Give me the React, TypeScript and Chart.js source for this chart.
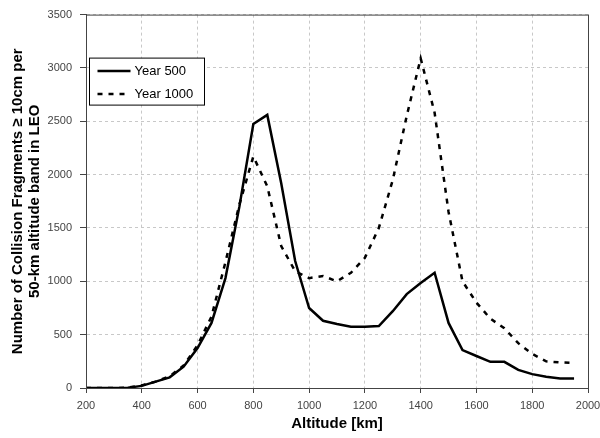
import React, { useEffect, useRef } from "react";
import { Chart, registerables } from "chart.js";

Chart.register(...registerables);

const altitudes = [200, 250, 300, 350, 400, 450, 500, 550, 600, 650, 700, 750, 800, 850, 900, 950, 1000, 1050, 1100, 1150, 1200, 1250, 1300, 1350, 1400, 1450, 1500, 1550, 1600, 1650, 1700, 1750, 1800, 1850, 1900, 1950];
const year500 = [0, 0, 0, 3, 20, 60, 100, 200, 375, 610, 1030, 1700, 2475, 2560, 1920, 1190, 750, 630, 600, 575, 575, 580, 720, 880, 985, 1080, 610, 355, 300, 245, 245, 170, 130, 105, 90, 90];
const year1000 = [0, 0, 0, 3, 25, 60, 110, 210, 400, 670, 1180, 1720, 2170, 1890, 1330, 1095, 1030, 1050, 1000, 1080, 1220, 1500, 1950, 2550, 3090, 2580, 1650, 1000, 800, 650, 560, 420, 320, 250, 240, 235];
const seriesNames = ["Year 500", "Year 1000"];
const yTitle = ["Number of Collision Fragments \u2265 10cm per", "50-km altitude band in LEO"];
const xTitle = "Altitude [km]";

const FONT = "'Liberation Sans', Arial, sans-serif";

const framePlugin = {
  id: "frameLegend",
  afterDraw(chart: any) {
    const { ctx, chartArea } = chart;
    ctx.save();
    ctx.strokeStyle = "#444";
    ctx.lineWidth = 1;
    ctx.setLineDash([]);
    ctx.strokeRect(chartArea.left + 0.5, chartArea.top + 0.5, chartArea.right - chartArea.left, chartArea.bottom - chartArea.top);
    // legend box
    const bx = chartArea.left + 3.5;
    const by = chartArea.top + 43.5;
    const bw = 115;
    const bh = 47;
    ctx.fillStyle = "#fff";
    ctx.fillRect(bx, by, bw, bh);
    ctx.strokeStyle = "#000";
    ctx.strokeRect(bx, by, bw, bh);
    ctx.font = "13px " + FONT;
    ctx.textBaseline = "middle";
    chart.data.datasets.forEach((ds: any, i: number) => {
      const y = by + 13 + i * 23;
      ctx.beginPath();
      ctx.strokeStyle = ds.borderColor;
      ctx.lineWidth = ds.borderWidth;
      ctx.setLineDash(ds.borderDash || []);
      ctx.moveTo(bx + 8, y);
      ctx.lineTo(bx + 41, y);
      ctx.stroke();
      ctx.setLineDash([]);
      ctx.fillStyle = "#000";
      ctx.fillText(ds.label, bx + 45, y);
    });
    ctx.restore();
  },
};

export default function App() {
  const ref = useRef<HTMLCanvasElement | null>(null);
  useEffect(() => {
    document.body.style.margin = "0";
    const chart = new Chart(ref.current as HTMLCanvasElement, {
      type: "line",
      data: {
        datasets: [
          {
            label: seriesNames[0],
            data: altitudes.map((a, i) => ({ x: a, y: year500[i] })),
            borderColor: "#000",
            borderWidth: 2.5,
            pointRadius: 0,
            tension: 0,
          },
          {
            label: seriesNames[1],
            data: altitudes.map((a, i) => ({ x: a, y: year1000[i] })),
            borderColor: "#000",
            borderWidth: 2.5,
            borderDash: [5, 6],
            pointRadius: 0,
            tension: 0,
          },
        ],
      },
      options: {
        animation: false,
        responsive: false,
        layout: { padding: { top: 8, right: 0, left: 10, bottom: 5 } },
        plugins: { legend: { display: false }, tooltip: { enabled: false } },
        scales: {
          x: {
            type: "linear",
            min: 200,
            max: 2000,
            afterFit: (s: any) => {
              s.height = 45;
              s.paddingRight = 12;
            },
            ticks: { stepSize: 200, color: "#444", font: { family: FONT, size: 11 }, maxRotation: 0, padding: 6, callback: (v: any) => String(v) },
            grid: { color: "#c8c8c8", tickBorderDash: [], tickColor: "#444", tickLength: 5 } as any,
            border: { display: true, color: "#444", dash: [3, 3] } as any,
            title: { display: true, text: xTitle, color: "#000", font: { family: FONT, size: 15, weight: "bold" }, padding: { top: 3, bottom: 0 } },
          },
          y: {
            min: 0,
            max: 3500,
            afterFit: (s: any) => {
              s.width = 76;
            },
            ticks: { stepSize: 500, color: "#444", font: { family: FONT, size: 11 }, padding: 8, callback: (v: any) => String(v) },
            grid: { color: "#c8c8c8", tickBorderDash: [], tickColor: "#444", tickLength: 6 } as any,
            border: { display: true, color: "#444", dash: [3, 3] } as any,
            title: { display: true, text: yTitle, color: "#000", font: { family: FONT, size: 15, weight: "bold", lineHeight: 1.1 }, padding: { top: 0, bottom: 6 } },
          },
        },
      } as any,
      plugins: [framePlugin],
    });
    return () => chart.destroy();
  }, []);
  return (
    <div style={{ position: "absolute", left: 0, top: 0, width: 600, height: 438 }}>
      <canvas ref={ref} width={600} height={438} />
    </div>
  );
}
